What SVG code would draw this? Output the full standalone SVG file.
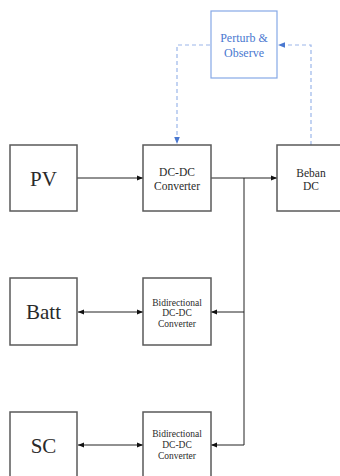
<svg xmlns="http://www.w3.org/2000/svg" width="340" height="476" viewBox="0 0 340 476">
  <defs>
    <marker id="arr" viewBox="0 0 10 10" refX="10" refY="5" markerWidth="6" markerHeight="6" orient="auto-start-reverse" markerUnits="userSpaceOnUse">
      <path d="M0,1 L10,5 L0,9 z" fill="#111"/>
    </marker>
    <marker id="arrBlue" viewBox="0 0 10 10" refX="10" refY="5" markerWidth="7" markerHeight="7" orient="auto" markerUnits="userSpaceOnUse">
      <path d="M0,1 L10,5 L0,9 z" fill="#4a78d0"/>
    </marker>
  </defs>
  <style>
    .box { fill: #fff; stroke: #5a5a5a; stroke-width: 1.5; }
    .ctl { fill: #fff; stroke: #86a8e6; stroke-width: 1.2; }
    text { font-family: 'Liberation Serif', 'Times New Roman', serif; text-anchor: middle; }
    .t { fill: #2a2a2a; }
    .big { font-size: 21px; }
    .mid { font-size: 11.5px; }
    .sm { font-size: 9.5px; }
    .blue { fill: #4a78d0; font-size: 12px; }
    .wire { fill: none; stroke: #222; stroke-width: 1; }
    .dash { fill: none; stroke: #9bb6ea; stroke-width: 1.2; stroke-dasharray: 4 3; }
  </style>
  <rect width="340" height="476" fill="#fff"/>

  <g id="connectors">
    <!-- control loop -->
    <polyline class="dash" points="311,145 311,45 278,45" marker-end="url(#arrBlue)"/>
    <polyline class="dash" points="210,45 177,45 177,144" marker-end="url(#arrBlue)"/>
    <!-- power path -->
    <line class="wire" x1="77" y1="178" x2="143" y2="178" marker-end="url(#arr)"/>
    <line class="wire" x1="211" y1="178" x2="277" y2="178" marker-end="url(#arr)"/>
    <polyline class="wire" points="244,178 244,445"/>
    <line class="wire" x1="244" y1="312" x2="211" y2="312" marker-end="url(#arr)"/>
    <line class="wire" x1="244" y1="445" x2="211" y2="445" marker-end="url(#arr)"/>
    <line class="wire" x1="78" y1="312" x2="143" y2="312" marker-start="url(#arr)" marker-end="url(#arr)"/>
    <line class="wire" x1="78" y1="445" x2="143" y2="445" marker-start="url(#arr)" marker-end="url(#arr)"/>
  </g>

  <g id="perturb-observe">
    <rect class="ctl" x="211" y="11" width="66" height="67"/>
    <text class="blue" x="244" y="42">Perturb &amp;</text>
    <text class="blue" x="244" y="57">Observe</text>
  </g>

  <g id="pv">
    <rect class="box" x="10" y="145" width="67" height="66"/>
    <text class="t big" x="43.5" y="186">PV</text>
  </g>

  <g id="dcdc">
    <rect class="box" x="143" y="145" width="68" height="66"/>
    <text class="t mid" x="177" y="176">DC-DC</text>
    <text class="t mid" x="177" y="190">Converter</text>
  </g>

  <g id="beban">
    <rect class="box" x="277" y="145" width="70" height="66"/>
    <text class="t mid" x="311" y="177">Beban</text>
    <text class="t mid" x="311" y="190">DC</text>
  </g>

  <g id="batt">
    <rect class="box" x="10" y="278" width="67" height="67"/>
    <text class="t big" x="43.5" y="319">Batt</text>
  </g>

  <g id="bidir-batt">
    <rect class="box" x="143" y="278" width="68" height="67"/>
    <text class="t sm" x="177" y="306">Bidirectional</text>
    <text class="t sm" x="177" y="316">DC-DC</text>
    <text class="t sm" x="177" y="326.5">Converter</text>
  </g>

  <g id="sc">
    <rect class="box" x="10" y="412" width="67" height="70"/>
    <text class="t big" x="43.5" y="453">SC</text>
  </g>

  <g id="bidir-sc">
    <rect class="box" x="143" y="412" width="68" height="70"/>
    <text class="t sm" x="177" y="437">Bidirectional</text>
    <text class="t sm" x="177" y="448">DC-DC</text>
    <text class="t sm" x="177" y="459">Converter</text>
  </g>
</svg>
